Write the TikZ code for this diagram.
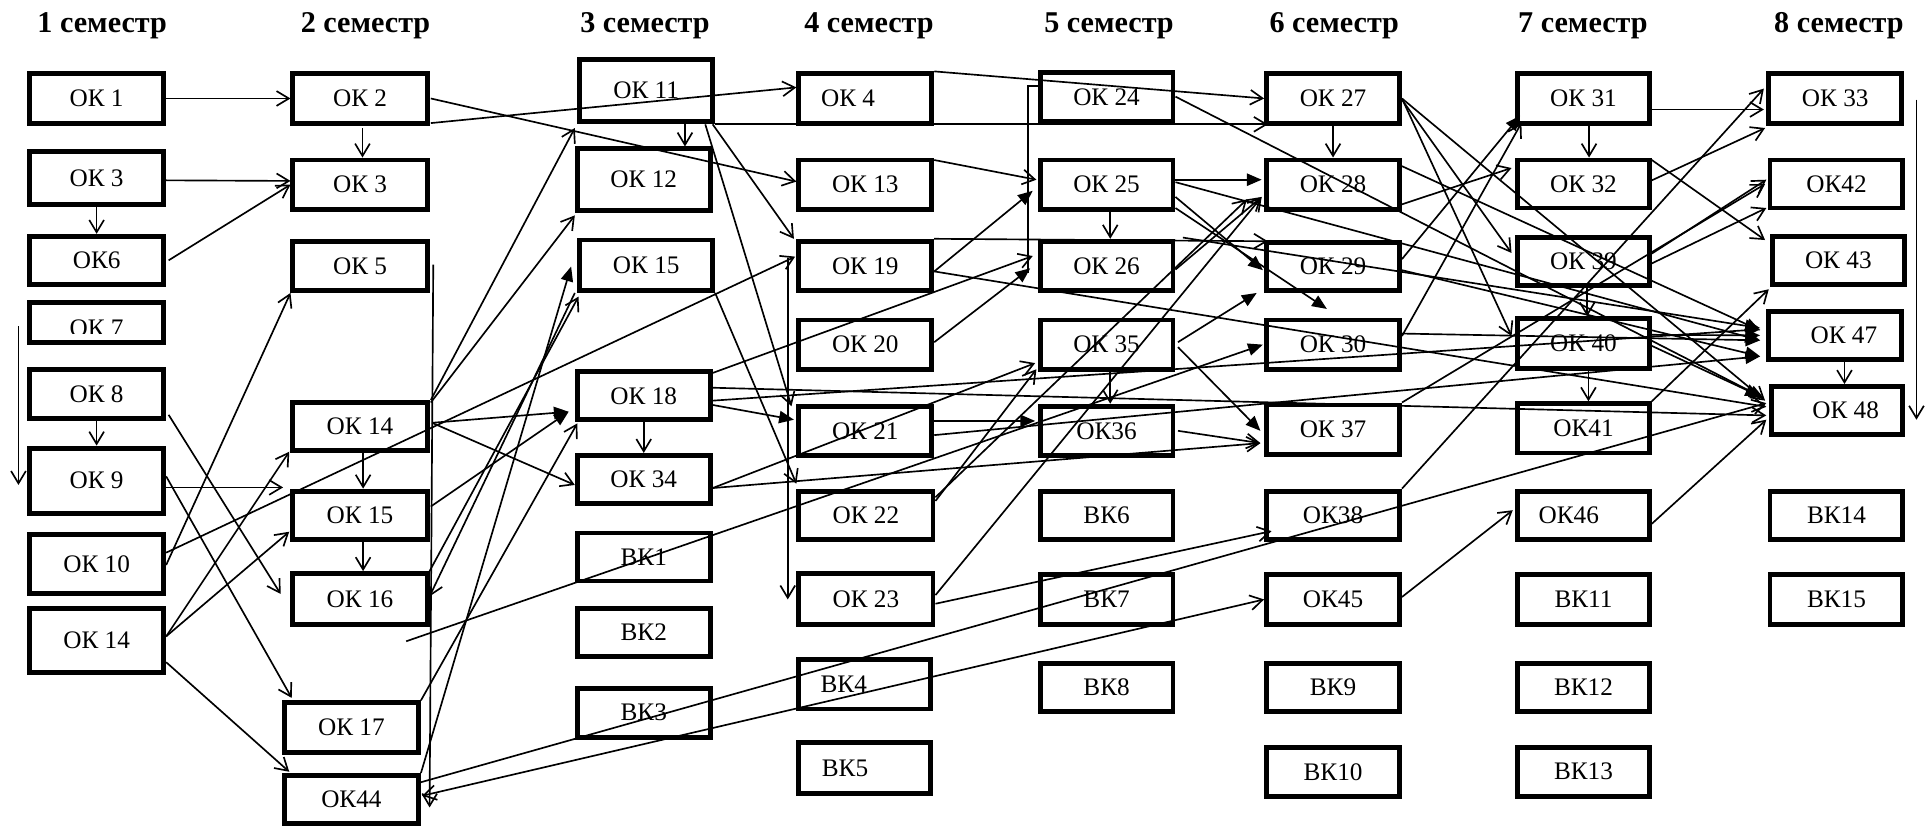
\documentclass[tikz,border=0pt]{standalone}
\usepackage{fontspec}
\setmainfont{Liberation Serif}
\usetikzlibrary{arrows.meta,calc}
\tikzset{
 box/.style={draw, line width=4pt, inner sep=0pt, font=\fontsize{20.5}{24}\selectfont},
 hd/.style={font=\fontsize{24.5}{28}\selectfont\bfseries, inner sep=0pt, anchor=base},
 ln/.style={line width=1.35pt},
 ar/.style={ln, -{Straight Barb[length=10pt,width=12pt]}},
 af/.style={ln, -{Triangle[length=12pt,width=10pt]}},
 ab/.style={ln, {Straight Barb[length=10pt,width=12pt]}-{Straight Barb[length=10pt,width=12pt]}},
}
\newcommand\bx[7][0pt]{\node[box, minimum width={(#4-#3-4)*1pt}, minimum height={(#6-#5-4)*1pt}] (#2) at ({(#3+#4)/2},{(#5+#6)/2}) {\hspace*{#1}#7};}
\begin{document}
\begin{tikzpicture}[x=1pt,y=-1pt]
\fill[white] (0,0) rectangle (1568,672.7);
\path[use as bounding box] (0,0) rectangle (1568,672.7);
% headings
\node[hd] (h1) at (83,26) {1 семестр};
\node[hd] (h2) at (297,26) {2 семестр};
\node[hd] (h3) at (524,26) {3 семестр};
\node[hd] (h4) at (706,26) {4 семестр};
\node[hd] (h5) at (901,26) {5 семестр};
\node[hd] (h6) at (1084,26) {6 семестр};
\node[hd] (h7) at (1286,26) {7 семестр};
\node[hd] (h8) at (1494,26) {8 семестр};
% column 1
\bx{c1ok1}{22}{135}{58}{102}{ОК 1}
\bx{c1ok3}{22}{135}{121}{168}{ОК 3}
\bx{c1ok6}{22}{135}{190}{233}{ОК6}
\bx{c1ok7}{22}{135}{244}{280}{}
\bx{c1ok8}{22}{135}{298}{342}{ОК 8}
\bx{c1ok9}{22}{135}{362}{419}{ОК 9}
\bx{c1ok10}{22}{135}{432}{484}{ОК 10}
\bx{c1ok14}{22}{135}{492}{548}{ОК 14}
\begin{scope}
\clip (24,247) rectangle (133,271);
\node[box, draw=none, anchor=base] (c1ok7t) at (78.5,273.5) {ОК 7};
\end{scope}
% column 2
\bx{c2ok2}{236}{349}{58}{102}{ОК 2}
\bx{c2ok3}{236}{349}{128}{172}{ОК 3}
\bx{c2ok5}{236}{349}{194}{238}{ОК 5}
\bx{c2ok14}{236}{349}{325}{368}{ОК 14}
\bx{c2ok15}{236}{349}{397}{440}{ОК 15}
\bx{c2ok16}{236}{349}{464}{509}{ОК 16}
\bx{c2ok17}{229}{342}{569}{613}{ОК 17}
\bx{c2ok44}{229}{342}{628}{671}{ОК44}
% column 3
\bx{c3ok11}{469}{581}{46}{101}{ОК 11}
\bx{c3ok12}{467}{579}{119}{173}{ОК 12}
\bx{c3ok15}{469}{581}{193}{238}{ОК 15}
\bx{c3ok18}{467}{579}{300}{343}{ОК 18}
\bx{c3ok34}{467}{579}{368}{411}{ОК 34}
\bx{c3vk1}{467}{579}{431}{474}{ВК1}
\bx{c3vk2}{467}{579}{492}{535}{ВК2}
\bx{c3vk3}{467}{579}{557}{601}{ВК3}
% column 4
\bx[-28pt]{c4ok4}{647}{759}{58}{102}{ОК 4}
\bx{c4ok13}{647}{759}{128}{172}{ОК 13}
\bx{c4ok19}{647}{759}{194}{238}{ОК 19}
\bx{c4ok20}{647}{759}{258}{302}{ОК 20}
\bx{c4ok21}{647}{759}{328}{372}{ОК 21}
\bx{c4ok22}{647}{760}{397}{440}{ОК 22}
\bx{c4ok23}{647}{760}{464}{509}{ОК 23}
\bx[-34pt]{c4vk4}{647}{758}{534}{578}{ВК4}
\bx[-32pt]{c4vk5}{647}{758}{601}{647}{ВК5}
% column 5
\bx{c5ok24}{843}{955}{57}{101}{ОК 24}
\bx{c5ok25}{843}{955}{128}{172}{ОК 25}
\bx{c5ok26}{843}{955}{194}{238}{ОК 26}
\bx{c5ok35}{843}{955}{258}{302}{ОК 35}
\bx{c5ok36}{843}{955}{328}{372}{ОК36}
\bx{c5vk6}{843}{955}{397}{440}{ВК6}
\bx{c5vk7}{843}{955}{465}{509}{ВК7}
\bx{c5vk8}{843}{955}{537}{580}{ВК8}
% column 6
\bx{c6ok27}{1027}{1139}{58}{102}{ОК 27}
\bx{c6ok28}{1027}{1139}{128}{172}{ОК 28}
\bx{c6ok29}{1027}{1139}{195}{238}{ОК 29}
\bx{c6ok30}{1027}{1139}{258}{302}{ОК 30}
\bx{c6ok37}{1027}{1139}{327}{371}{ОК 37}
\bx{c6ok38}{1027}{1139}{397}{440}{ОК38}
\bx{c6ok45}{1027}{1139}{465}{509}{ОК45}
\bx{c6vk9}{1027}{1139}{537}{580}{ВК9}
\bx{c6vk10}{1027}{1139}{605}{649}{ВК10}
% column 7
\bx{c7ok31}{1231}{1342}{58}{102}{ОК 31}
\bx{c7ok32}{1231}{1342}{128}{171}{ОК 32}
\bx{c7ok39}{1231}{1342}{191}{234}{ОК 39}
\bx{c7ok40}{1231}{1342}{257}{301}{ОК 40}
\bx{c7ok41}{1231}{1342}{326}{370}{ОК41}
\bx[-24pt]{c7ok46}{1231}{1342}{397}{440}{ОК46}
\bx{c7vk11}{1231}{1342}{465}{509}{ВК11}
\bx{c7vk12}{1231}{1342}{537}{580}{ВК12}
\bx{c7vk13}{1231}{1342}{605}{649}{ВК13}
% column 8
\bx{c8ok33}{1435}{1547}{58}{102}{ОК 33}
\bx{c8ok42}{1436}{1548}{128}{171}{ОК42}
\bx{c8ok43}{1438}{1549}{190}{233}{ОК 43}
\bx[14pt]{c8ok47}{1435}{1547}{251}{294}{ОК 47}
\bx[14pt]{c8ok48}{1437}{1548}{312}{355}{ОК 48}
\bx{c8vk14}{1436}{1548}{397}{440}{ВК14}
\bx{c8vk15}{1436}{1548}{465}{509}{ВК15}
% free coordinates
\coordinate (lv1) at (15,265); \coordinate (lv2) at (15,394);
\coordinate (v2a) at (352,215); \coordinate (v2b) at (349,656);
\coordinate (v4a) at (640,210); \coordinate (v4b) at (640,487);
\coordinate (v5a) at (835,70); \coordinate (v5b) at (835,222);
\coordinate (f1) at (330,521);
\coordinate (rv1) at (1557,81); \coordinate (rv2) at (1557,341);
% connectors
\draw[ar] (c1ok1.east) -- (c2ok2.west);
\draw[ar] ($(c1ok3.east)+(0,2)$) -- ($(c2ok3.west)+(0,-3)$);
\draw[ar] (c1ok3.south) -- (c1ok6.north);
\draw[ar] ($(c1ok6.east)+(2,0)$) -- (c2ok3.west);
\draw[ar] ($(c2ok2.south)+(2,2)$) -- ($(c2ok3.north)+(2,0)$);
\draw[ar] (lv1) -- (lv2);
\draw[ar] (c1ok8.south) -- (c1ok9.north);
\draw[ar] ($(c1ok9.east)+(0,5.5)$) -- ($(c2ok15.north west)+(-6,-1)$);
\draw[ar] ($(c1ok8.east)+(2,17)$) -- ($(c2ok16.west)+(-8,-4)$);
\draw[ar] ($(c1ok9.east)+(0,-3.5)$) -- ($(c2ok17.north west)+(8,-2)$);
\draw[ar] ($(c1ok10.east)+(0,1)$) -- (c2ok5.south west);
\draw[ar] ($(c1ok10.east)+(0,-9)$) -- ($(c4ok19.west)+(-1,-7.5)$);
\draw[ar] ($(c1ok14.east)+(0,-3)$) -- ($(c2ok14.south west)+(-1,-1)$);
\draw[ar] ($(c1ok14.east)+(0,-3)$) -- ($(c2ok15.west)+(-1,13.5)$);
\draw[ar] ($(c1ok14.east)+(0,18)$) -- ($(c2ok44.north west)+(6,-1)$);
\draw[ar] ($(c2ok14.south)+(2.5,0)$) -- ($(c2ok15.north)+(2.5,0)$);
\draw[ar] ($(c2ok15.south)+(2.5,0)$) -- ($(c2ok16.north)+(2.5,0)$);
\draw[ar] (v2a) -- (v2b);
\draw[ar] ($(c2ok2.east)+(1,0)$) -- ($(c4ok13.west)+(0,-2.5)$);
\draw[ar] ($(c2ok2.east)+(1,20)$) -- ($(c4ok4.west)+(0,-9)$);
\draw[ar] ($(c2ok14.north east)+(1,0)$) -- ($(c3ok11.south west)+(-2,3)$);
\draw[ar] ($(c2ok14.north east)+(1,2)$) -- ($(c3ok12.south west)+(0,2)$);
\draw[ar] (c2ok16.north east) -- ($(c3ok15.south west)+(1,3)$);
\draw[af] (c2ok44.north east) -- ($(c3ok15.west)+(-5,1)$);
\draw[ar] ($(c3ok15.south west)+(-2,0)$) -- ($(c2ok16.east)+(0,-2)$);
\draw[ar] (c2ok17.north east) -- ($(c3ok18.south west)+(2,1)$);
\draw[af] ($(c2ok14.east)+(2,-3)$) -- ($(c3ok18.west)+(-5,13)$);
\draw[af] ($(c2ok15.east)+(1,-7)$) -- ($(c3ok18.west)+(-5,13)$);
\draw[ar] ($(c2ok14.east)+(2,-3)$) -- ($(c3ok34.west)+(0,4.5)$);
\draw[ar] ($(c2ok44.east)+(0,-14)$) -- ($(c8ok48.west)+(-2,-6)$);
\draw[ab] ($(c2ok44.east)+(1,-3)$) -- (c6ok45.west);
\draw[ar] ($(c3ok11.south)+(31.5,0)$) -- ($(c3ok12.north)+(33.5,0)$);
\draw[ar] (c3ok18.south) -- (c3ok34.north);
\draw[ar] ($(c3ok11.south east)+(-2,0)$) -- ($(c4ok19.north west)+(-2,0)$);
\draw[ar] ($(c3ok11.south east)+(-8,0)$) -- ($(c4ok21.north west)+(-4,2)$);
\draw[ar] (c3ok11.south east) -- ($(c6ok27.south west)+(3,-1)$);
\draw[ar] (c3ok15.south east) -- ($(c4ok22.north west)+(0,-4)$);
\draw[af] ($(c3ok18.east)+(0,7.5)$) -- ($(c4ok21.west)+(-2,-9)$);
\draw[ar] ($(c3ok18.north east)+(0,3)$) -- ($(c5ok26.west)+(-4,-8)$);
\draw[ar] ($(c3ok18.east)+(0,-6.5)$) -- ($(c8ok48.west)+(-2,4)$);
\draw[af] ($(c3ok18.east)+(0,4)$) -- ($(c8ok47.west)+(-5,-5)$);
\draw[ar] ($(c3ok34.east)+(0,7)$) -- ($(c5ok35.south west)+(-2,-7)$);
\draw[ar] ($(c3ok34.east)+(0,7)$) -- ($(c6ok37.west)+(-3,11)$);
\draw[af] (f1) -- ($(c6ok30.west)+(-1,0)$);
\draw[ar] ($(c4ok4.east)+(0,-22)$) -- (c6ok27.west);
\draw[ar] ($(c4ok13.north east)+(0,2)$) -- ($(c5ok25.west)+(-1,-4)$);
\draw[af] ($(c4ok19.east)+(0,4.5)$) -- ($(c5ok25.west)+(-4,5)$);
\draw[ar] ($(c4ok19.east)+(0,4.5)$) -- ($(c8ok48.west)+(-2,-3)$);
\draw[ar] (c4ok19.north east) -- ($(c6ok29.north west)+(3,1)$);
\draw[af] ($(c4ok20.east)+(0,-2)$) -- ($(c5ok26.west)+(-6,2)$);
\draw[af] ($(c4ok21.east)+(0,-8)$) -- ($(c5ok36.west)+(-2,-8)$);
\draw[af] ($(c4ok21.east)+(0,3.5)$) -- ($(c8ok47.west)+(-5,17)$);
\draw[ar] ($(c4ok22.north east)+(0,10)$) -- ($(c5ok35.south west)+(-1,-2)$);
\draw[ar] ($(c4ok22.north east)+(0,7)$) -- ($(c6ok28.south west)+(-14,-10)$);
\draw[ar] ($(c4ok23.east)+(0,-3)$) -- ($(c6ok28.south west)+(-2,-12)$);
\draw[ar] ($(c4ok23.east)+(0,4)$) -- ($(c6ok38.west)+(6,13)$);
\draw[ar] (v4a) -- (v4b);
\draw[ln] ($(c5ok24.north west)+(0,13)$) -- (v5a) -- (v5b);
\draw[ar] ($(c5ok25.south)+(3,0)$) -- ($(c5ok26.north)+(3,0)$);
\draw[ar] ($(c5ok35.south)+(3,0)$) -- ($(c5ok36.north)+(3,0)$);
\draw[af] ($(c5ok25.east)+(0,-4)$) -- ($(c6ok28.west)+(-2,-4)$);
\draw[af] ($(c5ok25.east)+(0,10)$) -- ($(c6ok29.west)+(-1,3)$);
\draw[af] ($(c5ok25.south east)+(0,-3)$) -- ($(c6ok30.north)+(-5,-7)$);
\draw[af] ($(c5ok25.east)+(0,-2)$) -- ($(c8ok47.west)+(-5,4)$);
\draw[af] ($(c5ok24.east)+(0,-0.5)$) -- ($(c8ok48.west)+(-4,-10)$);
\draw[ar] ($(c5ok26.east)+(0,3)$) -- ($(c6ok28.south west)+(-2,-12)$);
\draw[af] ($(c5ok26.north east)+(6,-1)$) -- ($(c8ok47.west)+(-5,-6)$);
\draw[af] ($(c5ok35.east)+(2,-2)$) -- ($(c6ok29.south west)+(-6,0)$);
\draw[af] ($(c5ok35.east)+(2,2)$) -- ($(c6ok37.west)+(-3,1)$);
\draw[ar] ($(c5ok36.east)+(2,0)$) -- ($(c6ok37.west)+(-3,11)$);
\draw[ar] (c6ok27.south) -- (c6ok28.north);
\draw[ar] ($(c6ok27.east)+(0,1)$) -- ($(c7ok39.west)+(-3,-7)$);
\draw[ar] (c6ok27.east) -- ($(c7ok40.north west)+(-3,16)$);
\draw[ar] (c6ok27.east) -- ($(c8ok48.west)+(-3,-8)$);
\draw[ar] ($(c6ok28.east)+(0,16)$) -- ($(c7ok32.west)+(-3,-13)$);
\draw[af] ($(c6ok28.north east)+(0,7)$) -- ($(c8ok47.west)+(-5,-4)$);
\draw[af] ($(c6ok29.east)+(0,-6)$) -- ($(c7ok31.south west)+(4,-8)$);
\draw[ar] ($(c6ok30.north east)+(0,15)$) -- ($(c7ok31.south west)+(5,-2)$);
\draw[af] ($(c6ok30.east)+(0,-9)$) -- ($(c8ok47.west)+(-5,4)$);
\draw[af] ($(c6ok29.east)+(0,3)$) -- ($(c8ok47.west)+(-5,17)$);
\draw[ar] (c6ok37.north east) -- ($(c8ok42.west)+(-2,0)$);
\draw[ar] (c6ok38.north east) -- ($(c8ok33.west)+(-2,-8)$);
\draw[ar] ($(c6ok45.east)+(0,-2)$) -- ($(c7ok46.west)+(-2,-4)$);
\draw[ar] ($(c7ok31.south)+(4.5,0)$) -- ($(c7ok32.north)+(4.5,0)$);
\draw[ar] ($(c7ok39.south)+(3,0)$) -- ($(c7ok40.north)+(3,0)$);
\draw[ar] ($(c7ok40.south)+(4,0)$) -- ($(c7ok41.north)+(4,0)$);
\draw[ar] ($(c7ok31.east)+(0,9)$) -- ($(c8ok33.west)+(-2,9)$);
\draw[ar] ($(c7ok32.east)+(0,-3)$) -- ($(c8ok33.south west)+(-1,2)$);
\draw[ar] ($(c7ok32.north east)+(0,2)$) -- ($(c8ok43.north west)+(-4,5)$);
\draw[ar] ($(c7ok39.east)+(0,1.5)$) -- ($(c8ok42.south west)+(-1,-2)$);
\draw[ar] ($(c7ok39.east)+(0,-6.5)$) -- ($(c8ok42.west)+(-1,-3.5)$);
\draw[af] ($(c7ok40.east)+(0,2)$) -- ($(c8ok48.west)+(-7,-11.5)$);
\draw[af] ($(c7ok40.east)+(0,-7)$) -- ($(c8ok47.west)+(-5,0)$);
\draw[ar] (c7ok41.north east) -- ($(c8ok43.south west)+(-1,2)$);
\draw[ar] ($(c7ok46.east)+(0,7)$) -- ($(c8ok48.west)+(-2,7.5)$);
\draw[ar] ($(c8ok47.south)+(7.5,0)$) -- ($(c8ok48.north)+(6,0)$);
\draw[ar] (rv1) -- (rv2);
\end{tikzpicture}
\end{document}
